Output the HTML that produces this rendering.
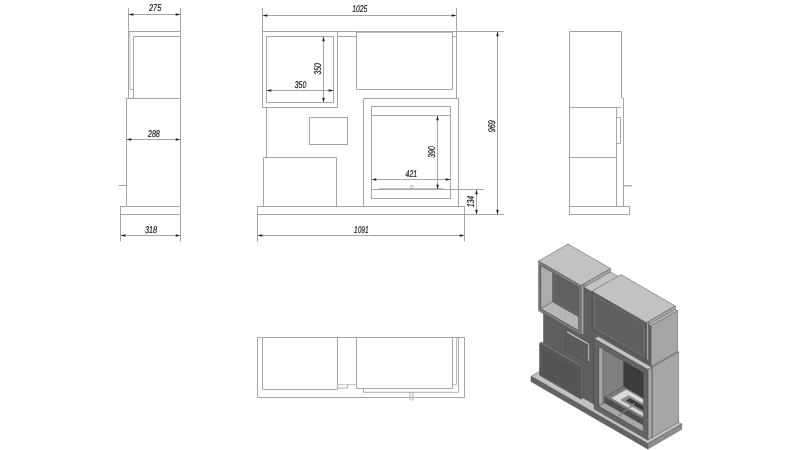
<!DOCTYPE html>
<html><head><meta charset="utf-8"><title>Fireplace dimensions</title>
<style>
html,body{margin:0;padding:0;background:#fff;}
body{width:800px;height:450px;overflow:hidden;}
svg{display:block;filter:grayscale(1)}
.t{font-family:"Liberation Sans",Arial,sans-serif;font-style:italic;font-size:9.8px;fill:#1c1c1c;stroke:#1c1c1c;stroke-width:0.22px;text-rendering:geometricPrecision;}
</style></head><body>
<svg width="800" height="450" viewBox="0 0 800 450">
<rect width="800" height="450" fill="#ffffff"/>
<g fill="none" opacity="0.999">
<defs><linearGradient id="gb" x1="0" x2="1" y1="0" y2="0"><stop offset="0" stop-color="#c4c4c4"/><stop offset="1" stop-color="#ffffff"/></linearGradient></defs><rect x="128.5" y="32" width="3.2" height="57.3" fill="url(#gb)" stroke="none"/>
<line x1="128.5" y1="8" x2="128.5" y2="98.5" stroke="#a6a6a6" stroke-width="1"/>
<line x1="180.5" y1="8" x2="180.5" y2="241.5" stroke="#a6a6a6" stroke-width="1"/>
<line x1="128.5" y1="31.5" x2="180.5" y2="31.5" stroke="#a6a6a6" stroke-width="1"/>
<polyline points="180.5,36.5 133.5,36.5 133.5,98.5" fill="none" stroke="#a6a6a6" stroke-width="1"/>
<line x1="130" y1="89.5" x2="133.5" y2="89.5" stroke="#b4b4b4" stroke-width="1"/>
<line x1="126" y1="98.5" x2="180.5" y2="98.5" stroke="#a6a6a6" stroke-width="1"/>
<line x1="126.5" y1="98.5" x2="126.5" y2="206" stroke="#a6a6a6" stroke-width="1"/>
<line x1="118.5" y1="185.5" x2="126.5" y2="185.5" stroke="#a6a6a6" stroke-width="1"/>
<rect x="120.5" y="206.5" width="60.0" height="8.0" fill="none" stroke="#a6a6a6" stroke-width="1"/>
<line x1="120.5" y1="214.5" x2="120.5" y2="241.5" stroke="#a6a6a6" stroke-width="1"/>
<line x1="128.5" y1="14.5" x2="180.5" y2="14.5" stroke="#a6a6a6" stroke-width="1"/>
<polygon points="128.5,14.5 133.3,13.2 133.3,15.8" fill="#1e1e1e"/>
<polygon points="180.5,14.5 175.7,13.2 175.7,15.8" fill="#1e1e1e"/>
<text x="149" y="11" textLength="12.3" lengthAdjust="spacingAndGlyphs" class="t">275</text>
<line x1="126.5" y1="139.5" x2="180.5" y2="139.5" stroke="#a6a6a6" stroke-width="1"/>
<polygon points="126.5,139.5 131.3,138.2 131.3,140.8" fill="#1e1e1e"/>
<polygon points="180.5,139.5 175.7,138.2 175.7,140.8" fill="#1e1e1e"/>
<text x="148" y="136.8" textLength="11.8" lengthAdjust="spacingAndGlyphs" class="t">288</text>
<line x1="120.5" y1="235.5" x2="180.5" y2="235.5" stroke="#a6a6a6" stroke-width="1"/>
<polygon points="120.5,235.5 125.3,234.2 125.3,236.8" fill="#1e1e1e"/>
<polygon points="180.5,235.5 175.7,234.2 175.7,236.8" fill="#1e1e1e"/>
<text x="145" y="233" textLength="12" lengthAdjust="spacingAndGlyphs" class="t">318</text>
<line x1="262.5" y1="8" x2="262.5" y2="31.5" stroke="#a6a6a6" stroke-width="1"/>
<line x1="456.5" y1="8" x2="456.5" y2="98.5" stroke="#a6a6a6" stroke-width="1"/>
<line x1="262.5" y1="15.5" x2="456.5" y2="15.5" stroke="#a6a6a6" stroke-width="1"/>
<polygon points="262.5,15.5 267.3,14.2 267.3,16.8" fill="#1e1e1e"/>
<polygon points="456.5,15.5 451.7,14.2 451.7,16.8" fill="#1e1e1e"/>
<text x="352.3" y="12" textLength="15.1" lengthAdjust="spacingAndGlyphs" class="t">1025</text>
<rect x="262.5" y="31.5" width="75.0" height="76.0" fill="none" stroke="#a6a6a6" stroke-width="1"/>
<rect x="266.5" y="36.5" width="67.0" height="66.0" fill="none" stroke="#a6a6a6" stroke-width="1"/>
<line x1="337.5" y1="31.5" x2="504" y2="31.5" stroke="#a6a6a6" stroke-width="1"/>
<line x1="356.5" y1="32.3" x2="452.5" y2="32.3" stroke="#b0b0b0" stroke-width="1"/>
<line x1="337.5" y1="36.5" x2="356.5" y2="36.5" stroke="#a6a6a6" stroke-width="1"/>
<line x1="452.5" y1="36.5" x2="456.5" y2="36.5" stroke="#a6a6a6" stroke-width="1"/>
<polyline points="356.5,31.5 356.5,89.5 452.5,89.5 452.5,31.5" fill="none" stroke="#a6a6a6" stroke-width="1"/>
<line x1="266.5" y1="107.5" x2="266.5" y2="157.5" stroke="#a6a6a6" stroke-width="1"/>
<rect x="309.5" y="117.5" width="38.0" height="27.0" fill="none" stroke="#a6a6a6" stroke-width="1"/>
<polyline points="263.5,206.5 263.5,157.5 336.5,157.5 336.5,206.5" fill="none" stroke="#a6a6a6" stroke-width="1"/>
<polyline points="363.5,206.5 363.5,98.5 458.5,98.5 458.5,206.5" fill="none" stroke="#a6a6a6" stroke-width="1"/>
<rect x="371.5" y="106.5" width="79.0" height="92.0" fill="none" stroke="#a6a6a6" stroke-width="1"/>
<line x1="371.5" y1="115.5" x2="450.5" y2="115.5" stroke="#a6a6a6" stroke-width="1"/>
<line x1="371.5" y1="189.5" x2="484" y2="189.5" stroke="#a6a6a6" stroke-width="1"/>
<line x1="379" y1="188.7" x2="443.5" y2="188.7" stroke="#b4b4b4" stroke-width="1"/>
<polyline points="410.5,189 410.5,185.5 413,185.5 413,189" fill="none" stroke="#a8a8a8" stroke-width="0.8"/>
<rect x="257.5" y="206.5" width="207.0" height="8.0" fill="none" stroke="#a6a6a6" stroke-width="1"/>
<line x1="464.5" y1="214.5" x2="504" y2="214.5" stroke="#a6a6a6" stroke-width="1"/>
<line x1="257.5" y1="214.5" x2="257.5" y2="241.5" stroke="#a6a6a6" stroke-width="1"/>
<line x1="464.5" y1="214.5" x2="464.5" y2="241.5" stroke="#a6a6a6" stroke-width="1"/>
<line x1="257.5" y1="235.5" x2="464.5" y2="235.5" stroke="#a6a6a6" stroke-width="1"/>
<polygon points="257.5,235.5 262.3,234.2 262.3,236.8" fill="#1e1e1e"/>
<polygon points="464.5,235.5 459.7,234.2 459.7,236.8" fill="#1e1e1e"/>
<text x="354" y="232.6" textLength="14.6" lengthAdjust="spacingAndGlyphs" class="t">1091</text>
<line x1="266.5" y1="90.5" x2="333.5" y2="90.5" stroke="#a6a6a6" stroke-width="1"/>
<polygon points="266.5,90.5 271.3,89.2 271.3,91.8" fill="#1e1e1e"/>
<polygon points="333.5,90.5 328.7,89.2 328.7,91.8" fill="#1e1e1e"/>
<text x="294.8" y="87.6" textLength="11.4" lengthAdjust="spacingAndGlyphs" class="t">350</text>
<line x1="323.5" y1="36.5" x2="323.5" y2="102.5" stroke="#a6a6a6" stroke-width="1"/>
<polygon points="323.5,36.5 322.2,41.3 324.8,41.3" fill="#1e1e1e"/>
<polygon points="323.5,102.5 322.2,97.7 324.8,97.7" fill="#1e1e1e"/>
<text transform="translate(321,74.4) rotate(-90)" textLength="11.2" lengthAdjust="spacingAndGlyphs" class="t">350</text>
<line x1="371.5" y1="179.5" x2="450.5" y2="179.5" stroke="#a6a6a6" stroke-width="1"/>
<polygon points="371.5,179.5 376.3,178.2 376.3,180.8" fill="#1e1e1e"/>
<polygon points="450.5,179.5 445.7,178.2 445.7,180.8" fill="#1e1e1e"/>
<text x="405.6" y="176.6" textLength="11.4" lengthAdjust="spacingAndGlyphs" class="t">421</text>
<line x1="437.5" y1="115.5" x2="437.5" y2="189.5" stroke="#a6a6a6" stroke-width="1"/>
<polygon points="437.5,115.5 436.2,120.3 438.8,120.3" fill="#1e1e1e"/>
<polygon points="437.5,189.5 436.2,184.7 438.8,184.7" fill="#1e1e1e"/>
<text transform="translate(434.8,157.8) rotate(-90)" textLength="11.6" lengthAdjust="spacingAndGlyphs" class="t">390</text>
<line x1="476.5" y1="189.5" x2="476.5" y2="214.5" stroke="#a6a6a6" stroke-width="1"/>
<polygon points="476.5,189.5 475.2,194.3 477.8,194.3" fill="#1e1e1e"/>
<polygon points="476.5,214.5 475.2,209.7 477.8,209.7" fill="#1e1e1e"/>
<text transform="translate(474.2,207.3) rotate(-90)" textLength="11.4" lengthAdjust="spacingAndGlyphs" class="t">134</text>
<line x1="497.5" y1="31.5" x2="497.5" y2="214.5" stroke="#a6a6a6" stroke-width="1"/>
<polygon points="497.5,31.5 496.2,36.3 498.8,36.3" fill="#1e1e1e"/>
<polygon points="497.5,214.5 496.2,209.7 498.8,209.7" fill="#1e1e1e"/>
<text transform="translate(495,132.3) rotate(-90)" textLength="12.2" lengthAdjust="spacingAndGlyphs" class="t">969</text>
<polyline points="621.5,98 621.5,31.5 569.5,31.5 569.5,206.5" fill="none" stroke="#a0a0a0" stroke-width="1"/>
<polyline points="621.5,98.3 623.5,98.3 623.5,206.5" fill="none" stroke="#a6a6a6" stroke-width="1"/>
<line x1="569.5" y1="107.5" x2="621.5" y2="107.5" stroke="#a6a6a6" stroke-width="1"/>
<line x1="616.5" y1="107.5" x2="616.5" y2="206.5" stroke="#a6a6a6" stroke-width="1"/>
<polyline points="616.5,117.5 620.5,117.5 620.5,143.5 616.5,143.5" fill="none" stroke="#a6a6a6" stroke-width="1"/>
<line x1="569.5" y1="157.5" x2="616.5" y2="157.5" stroke="#a6a6a6" stroke-width="1"/>
<line x1="623.5" y1="185.8" x2="632" y2="185.8" stroke="#a6a6a6" stroke-width="1.3"/>
<rect x="569.5" y="206.5" width="60.0" height="8.0" fill="none" stroke="#a6a6a6" stroke-width="1"/>
<rect x="257.5" y="337.5" width="207.0" height="60.0" fill="none" stroke="#a8a8a8" stroke-width="1"/>
<polyline points="262.5,337.5 262.5,389.5 337.5,389.5 337.5,337.5" fill="none" stroke="#a6a6a6" stroke-width="1"/>
<line x1="337.5" y1="384.7" x2="356.5" y2="384.7" stroke="#bdbdbd" stroke-width="1"/>
<polyline points="337.5,388 347.5,388 347.5,384.7" fill="none" stroke="#b0b0b0" stroke-width="1"/>
<polyline points="356.5,337.5 356.5,388.5 452.5,388.5 452.5,337.5" fill="none" stroke="#a6a6a6" stroke-width="1"/>
<polyline points="452.5,384.7 456.5,384.7 456.5,337.5" fill="none" stroke="#b8b8b8" stroke-width="1"/>
<polyline points="363.5,388.5 363.5,392.3 458.5,392.3 458.5,337.5" fill="none" stroke="#acacac" stroke-width="1"/>
<path d="M410 392.3V398.6a1.5 1.5 0 0 0 3 0V392.3" stroke="#a8a8a8" stroke-width="0.9" fill="none"/>
</g>
<g>
<polygon points="531.0,376.29 647.68,443.66 681.69,424.02 565.01,356.65" fill="#c2c2c2" stroke="#4c4c4c" stroke-width="0.5" stroke-linejoin="round" />
<polygon points="647.68,448.97 681.69,429.33 681.69,424.02 647.68,443.66" fill="#8e8e8e" stroke="#4c4c4c" stroke-width="0.5" stroke-linejoin="round" />
<polygon points="531.0,381.6 647.68,448.97 647.68,443.66 531.0,376.29" fill="#626262" stroke="#4c4c4c" stroke-width="0.5" stroke-linejoin="round" />
<polygon points="543.51,264.09 650.89,326.09 677.52,310.71 570.14,248.71" fill="#c2c2c2" stroke="#4c4c4c" stroke-width="0.5" stroke-linejoin="round" />
<polygon points="650.89,436.99 677.52,421.61 677.52,310.71 650.89,326.09" fill="#a6a6a6" stroke="#4c4c4c" stroke-width="0.5" stroke-linejoin="round" />
<polygon points="543.51,374.99 650.89,436.99 650.89,326.09 543.51,264.09" fill="#5e5e5e" stroke="#4c4c4c" stroke-width="0.5" stroke-linejoin="round" />
<polygon points="583.73,287.31 610.36,271.93 610.36,268.47 583.73,283.85" fill="#a6a6a6" stroke="#4c4c4c" stroke-width="0.5" stroke-linejoin="round" />
<polygon points="648.65,324.79 675.28,309.41 675.28,305.96 648.65,321.33" fill="#a6a6a6" stroke="#4c4c4c" stroke-width="0.5" stroke-linejoin="round" />
<polygon points="646.4,360.67 648.65,359.37 648.65,321.33 646.4,322.63" fill="#a6a6a6" stroke="#4c4c4c" stroke-width="0.5" stroke-linejoin="round" />
<polygon points="592.07,329.3 646.4,360.67 646.4,322.63 592.07,291.26" fill="#5c5c5c" stroke="#4c4c4c" stroke-width="0.5" stroke-linejoin="round" />
<polygon points="592.07,291.26 646.4,322.63 675.28,305.96 620.95,274.59" fill="#c2c2c2" stroke="#4c4c4c" stroke-width="0.5" stroke-linejoin="round" />
<polygon points="594.42,327.94 644.05,356.59 644.05,323.99 594.42,295.34" fill="#5f5f5f" stroke="#858585" stroke-width="0.5" stroke-linejoin="round" />
<polygon points="580.95,335.23 583.73,333.62 583.73,283.85 580.95,285.46" fill="#a6a6a6" stroke="#4c4c4c" stroke-width="0.5" stroke-linejoin="round" />
<polygon points="538.59,310.77 580.95,335.23 580.95,285.46 538.59,261.0" fill="#7c7c7c" stroke="#4c4c4c" stroke-width="0.5" stroke-linejoin="round" />
<polygon points="538.59,261.0 580.95,285.46 610.36,268.47 568.01,244.02" fill="#c2c2c2" stroke="#4c4c4c" stroke-width="0.5" stroke-linejoin="round" />
<clipPath id="c1"><polygon points="540.63,308.74 578.59,330.66 578.59,287.55 540.63,265.63"/></clipPath><g clip-path="url(#c1)">
<polygon points="552.6,301.82 590.57,323.74 590.57,280.64 552.6,258.72" fill="#626262" stroke="#4c4c4c" stroke-width="0.5" stroke-linejoin="round" />
<polygon points="555.06,300.4 588.22,319.54 588.22,282.12 555.06,262.98" fill="#606060" stroke="#757575" stroke-width="0.5" stroke-linejoin="round" />
<polygon points="540.63,308.74 552.6,301.82 552.6,258.72 540.63,265.63" fill="#acacac" stroke="#4c4c4c" stroke-width="0.5" stroke-linejoin="round" />
<polygon points="540.63,308.74 578.59,330.66 590.57,323.74 552.6,301.82" fill="#b6b6b6" stroke="#4c4c4c" stroke-width="0.5" stroke-linejoin="round" />
</g>
<polygon points="540.63,308.74 578.59,330.66 578.59,287.55 540.63,265.63" fill="none" stroke="#4c4c4c" stroke-width="0.6" stroke-linejoin="round" />
<polygon points="539.56,343.32 580.73,367.09 582.98,365.79 541.8,342.02" fill="#747474" stroke="#4c4c4c" stroke-width="0.5" stroke-linejoin="round" />
<polygon points="580.73,399.08 582.98,397.78 582.98,365.79 580.73,367.09" fill="#6e6e6e" stroke="#4c4c4c" stroke-width="0.5" stroke-linejoin="round" />
<polygon points="539.56,375.3 580.73,399.08 580.73,367.09 539.56,343.32" fill="#565656" stroke="#4c4c4c" stroke-width="0.5" stroke-linejoin="round" />
<polygon points="541.7,374.44 578.59,395.74 578.59,368.08 541.7,346.77" fill="#545454" stroke="#636363" stroke-width="0.5" stroke-linejoin="round" />
<polygon points="565.65,332.2 587.36,344.74 589.4,343.56 567.68,331.03" fill="#c0c0c0" stroke="#4c4c4c" stroke-width="0.5" stroke-linejoin="round" />
<polygon points="587.36,362.27 589.4,361.1 589.4,343.56 587.36,344.74" fill="#b4b4b4" stroke="#4c4c4c" stroke-width="0.5" stroke-linejoin="round" />
<polygon points="565.65,349.74 587.36,362.27 587.36,344.74 565.65,332.2" fill="#5c5c5c" stroke="#4c4c4c" stroke-width="0.5" stroke-linejoin="round" />
<polygon points="650.89,366.72 651.96,367.34 678.59,351.96 677.52,351.34" fill="#c2c2c2" stroke="#4c4c4c" stroke-width="0.5" stroke-linejoin="round" />
<polygon points="651.96,437.61 678.59,422.23 678.59,351.96 651.96,367.34" fill="#a6a6a6" stroke="#4c4c4c" stroke-width="0.5" stroke-linejoin="round" />
<polygon points="650.89,436.99 651.96,437.61 651.96,367.34 650.89,366.72" fill="#686868" stroke="#4c4c4c" stroke-width="0.5" stroke-linejoin="round" />
<polygon points="594.1,338.75 647.79,369.74 651.96,367.34 598.27,336.34" fill="#c2c2c2" stroke="#4c4c4c" stroke-width="0.5" stroke-linejoin="round" />
<polygon points="647.79,440.02 651.96,437.61 651.96,367.34 647.79,369.74" fill="#a6a6a6" stroke="#4c4c4c" stroke-width="0.5" stroke-linejoin="round" />
<polygon points="594.1,409.02 647.79,440.02 647.79,369.74 594.1,338.75" fill="#646464" stroke="#4c4c4c" stroke-width="0.5" stroke-linejoin="round" />
<clipPath id="c2"><polygon points="598.59,406.3 643.41,432.17 643.41,372.4 598.59,346.53"/></clipPath><g clip-path="url(#c2)">
<polygon points="623.41,391.97 668.22,417.85 668.22,358.07 623.41,332.2" fill="#3c3c3c" stroke="#4c4c4c" stroke-width="0.5" stroke-linejoin="round" />
<polygon points="598.59,406.3 623.41,391.97 623.41,332.2 598.59,346.53" fill="#808080" stroke="#4c4c4c" stroke-width="0.5" stroke-linejoin="round" />
<polygon points="598.59,406.3 602.87,403.83 602.87,344.06 598.59,346.53" fill="#a4a4a4" stroke="#4c4c4c" stroke-width="0.5" stroke-linejoin="round" />
<polygon points="598.59,406.3 643.41,432.17 649.61,428.59 604.8,402.72" fill="#a8a8a8" stroke="#4c4c4c" stroke-width="0.5" stroke-linejoin="round" />
<polygon points="604.8,402.72 649.61,428.59 649.61,422.91 604.8,397.04" fill="#4e4e4e" stroke="#4c4c4c" stroke-width="0.5" stroke-linejoin="round" />
<polygon points="604.8,397.04 649.61,422.91 668.22,412.17 623.41,386.29" fill="#7a7a7a" stroke="#4c4c4c" stroke-width="0.5" stroke-linejoin="round" />
<polygon points="611.21,398.03 651.96,421.55 666.93,412.91 626.19,389.38" fill="#dadada" stroke="#8a8a8a" stroke-width="0.4" stroke-linejoin="round" />
<polygon points="620.84,399.88 647.58,415.32 655.28,410.87 628.54,395.43" fill="#8e8e8e" stroke="#666" stroke-width="0.4" stroke-linejoin="round" />
<polygon points="625.97,400.62 646.29,412.35 650.25,410.07 629.93,398.33" fill="#3a3a3a" stroke="#333" stroke-width="0.3" stroke-linejoin="round" />
</g>
<polygon points="598.59,406.3 643.41,432.17 643.41,372.4 598.59,346.53" fill="none" stroke="#4c4c4c" stroke-width="0.6" stroke-linejoin="round" />
<line x1="634.74" y1="403.21" x2="618.7" y2="416.18" stroke="#808080" stroke-width="1.3"/>
</g>
</svg>
</body></html>
